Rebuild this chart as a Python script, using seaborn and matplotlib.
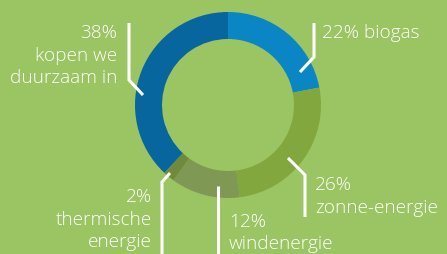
import matplotlib
matplotlib.use("Agg")
import matplotlib.pyplot as plt
import seaborn as sns

labels = ["biogas", "zonne-energie", "windenergie", "thermische\nenergie", "kopen we\nduurzaam in"]
values = [22, 26, 12, 2, 38]
colors = ["#0A86C4", "#83A73F", "#7F9853", "#6E8A3A", "#06669D"]

BG = "#9BC462"
sns.set_style("white")
plt.rcParams["font.family"] = ["Open Sans", "DejaVu Sans"]

W, H = 447, 254
fig = plt.figure(figsize=(W / 100, H / 100), dpi=100, facecolor=BG)
ax = fig.add_axes([0, 0, 1, 1])
ax.set_facecolor(BG)

cx, cy, R = 228, H - 105, 93
ax.pie(values, colors=colors, startangle=90, counterclock=False,
       center=(cx, cy), radius=R, frame=True,
       wedgeprops=dict(width=27, linewidth=0))
ax.set_xlim(0, W)
ax.set_ylim(0, H)
ax.set_aspect("equal")
ax.axis("off")

def py(y):
    return H - y

lw = 2.2
lines = [
    [(300, 72), (314, 57), (314, 23)],
    [(288, 158), (305, 175), (305, 217)],
    [(218, 186), (218, 256)],
    [(170, 173), (162, 182), (162, 256)],
    [(143, 95), (129, 80), (129, 23)],
]
for pts in lines:
    ax.plot([p[0] for p in pts], [py(p[1]) for p in pts], color="white",
            lw=lw, solid_capstyle="butt", solid_joinstyle="miter", clip_on=False)

fs = 13.7
texts = [
    (322, 33, f"{values[0]}% {labels[0]}", "left"),
    (315, 185, f"{values[1]}%", "left"),
    (315, 208, labels[1], "left"),
    (229, 222, f"{values[2]}%", "left"),
    (229, 244, labels[2], "left"),
    (152, 197, f"{values[3]}%", "right"),
    (152, 220, labels[3].split("\n")[0], "right"),
    (152, 242, labels[3].split("\n")[1], "right"),
    (117, 33, f"{values[4]}%", "right"),
    (117, 56, labels[4].split("\n")[0], "right"),
    (117, 78, labels[4].split("\n")[1], "right"),
]
for x, y, s, ha in texts:
    ax.text(x, py(y), s, color="white", fontsize=fs, ha=ha, va="center",
            fontweight="light")

fig.savefig("out.png", dpi=100, facecolor=BG)
